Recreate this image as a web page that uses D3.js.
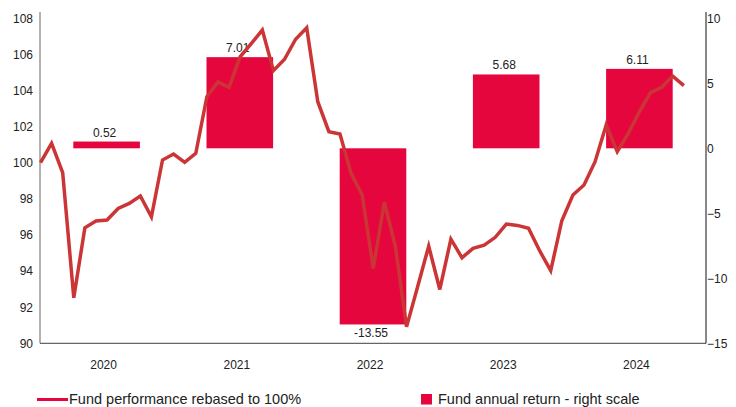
<!DOCTYPE html>
<html>
<head>
<meta charset="utf-8">
<script src="https://cdn.jsdelivr.net/npm/d3@7"></script>
<style>
body { margin: 0; background: #fff; }
text { font-family: "Liberation Sans", Arial, sans-serif; fill: #222; }
</style>
</head>
<body>
<svg id="chart" width="736" height="407"></svg>
<script>
"use strict";

// annual returns (right scale)
var years = ["2020", "2021", "2022", "2023", "2024"];
var annual_returns = [0.52, 7.01, -13.55, 5.68, 6.11];

// monthly fund value rebased to 100, Dec 2019 .. Oct 2024
var fund_values = [
	100, 101.07, 99.45, 92.52, 96.4, 96.77, 96.83, 97.47, 97.75, 98.16, 97.01, 100.15,
	100.48, 100.02, 100.52, 103.66, 104.47, 104.18, 105.87, 106.6, 107.35, 105.1, 105.73, 106.84,
	107.48, 103.38, 101.72, 101.59, 99.41, 98.21, 94.15, 97.81, 95.35, 90.91, 93.13, 95.38,
	92.98, 95.77, 94.74, 95.26, 95.44, 95.87, 96.6, 96.53, 96.37, 95.13, 94.02, 96.79,
	98.21, 98.77, 100.06, 102.09, 100.61, 101.63, 102.83, 103.88, 104.18, 104.8, 104.27
];

var left_ticks = [90, 92, 94, 96, 98, 100, 102, 104, 106, 108];
var right_ticks = [-15, -10, -5, 0, 5, 10];

var plot_left = 40, plot_right = 706, plot_top = 18.3, plot_bottom = 343.3,
	line_color = "#cc3535",
	bar_color = "#e4063c";

var svg = d3.select("#chart");

var x_band = d3.scaleBand().domain(years).range([plot_left, plot_right]).paddingInner(0).paddingOuter(0);
var x_month = d3.scaleLinear().domain([0, 60]).range([plot_left + 0.5, plot_right]);
var y_left = d3.scaleLinear().domain([90, 108]).range([plot_bottom, plot_top]);
var y_right = d3.scaleLinear().domain([-15, 10]).range([plot_bottom, plot_top]);

// axis lines
svg.append("line").attr("x1", plot_left).attr("x2", plot_left).attr("y1", 12).attr("y2", plot_bottom)
	.attr("stroke", "#666").attr("stroke-width", 1);
svg.append("line").attr("x1", plot_left).attr("x2", plot_right).attr("y1", plot_bottom).attr("y2", plot_bottom)
	.attr("stroke", "#666").attr("stroke-width", 1.2);
svg.append("line").attr("x1", plot_right).attr("x2", plot_right).attr("y1", 12).attr("y2", plot_bottom)
	.attr("stroke", "#111").attr("stroke-width", 1);

// left axis labels
var ga = svg.append("g").attr("transform", "translate(" + plot_left + ",0)")
	.call(d3.axisLeft(y_left).tickValues(left_ticks).tickSize(0).tickPadding(7));
ga.select(".domain").remove();
ga.selectAll("text").style("font-size", "12px").attr("fill", "#222");

// right axis labels
var gr = svg.append("g").attr("transform", "translate(" + plot_right + ",0)")
	.call(d3.axisRight(y_right).tickValues(right_ticks).tickSize(0).tickPadding(1));
gr.select(".domain").remove();
gr.selectAll("text").style("font-size", "12px").attr("fill", "#222");

// year labels
var gx = svg.append("g").attr("transform", "translate(-3," + plot_bottom + ")")
	.call(d3.axisBottom(x_band).tickSize(0).tickPadding(17));
gx.select(".domain").remove();
gx.selectAll("text").style("font-size", "12px").attr("fill", "#222");

// bars
var bar_w = x_band.bandwidth() / 2;
svg.selectAll(".bar").data(annual_returns).enter().append("rect")
	.attr("class", "bar")
	.attr("x", function(d, i) { return x_band(years[i]) + bar_w / 2; })
	.attr("width", bar_w)
	.attr("y", function(d) { return y_right(Math.max(d, 0)); })
	.attr("height", function(d) { return Math.abs(y_right(d) - y_right(0)); })
	.attr("fill", bar_color);

svg.selectAll(".bar_label").data(annual_returns).enter().append("text")
	.attr("class", "bar_label")
	.attr("x", function(d, i) { return x_band(years[i]) + x_band.bandwidth() / 2 - 2; })
	.attr("y", function(d) { return d >= 0 ? y_right(d) - 5 : y_right(d) + 13; })
	.attr("text-anchor", "middle")
	.style("font-size", "12px")
	.text(function(d) { return d.toFixed(2); });

// fund line
var line = d3.line()
	.x(function(d, i) { return x_month(i); })
	.y(function(d) { return y_left(d); });

svg.append("path").datum(fund_values)
	.attr("d", line)
	.attr("fill", "none")
	.attr("stroke", line_color)
	.attr("stroke-width", 3.5)
	.attr("stroke-linejoin", "miter");

// legend
svg.append("line").attr("x1", 37).attr("x2", 68).attr("y1", 399.5).attr("y2", 399.5)
	.attr("stroke", bar_color).attr("stroke-width", 3);
svg.append("text").attr("x", 69).attr("y", 404).style("font-size", "14.5px")
	.text("Fund performance rebased to 100%");
svg.append("rect").attr("x", 421).attr("y", 394).attr("width", 11).attr("height", 10.5)
	.attr("fill", bar_color);
svg.append("text").attr("x", 438).attr("y", 404).style("font-size", "14.5px")
	.text("Fund annual return - right scale");
</script>
</body>
</html>
